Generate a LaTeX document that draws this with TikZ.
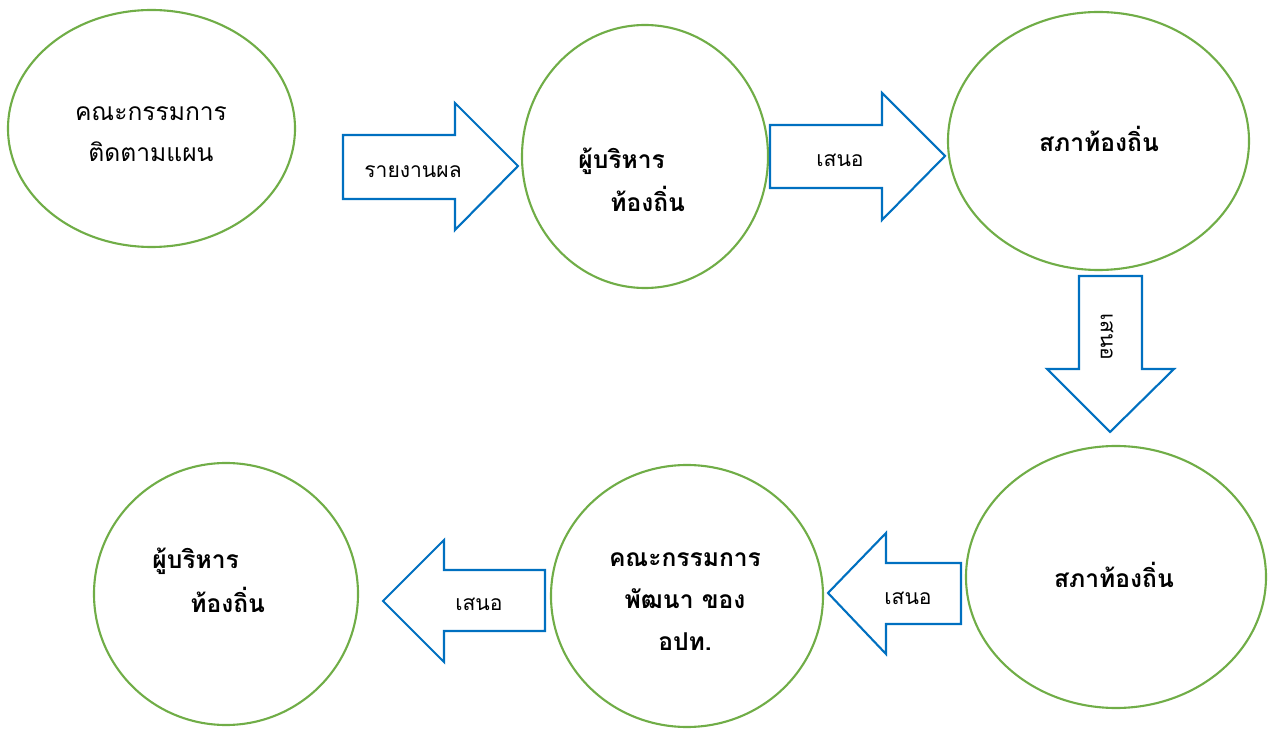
\documentclass[tikz,border=0pt]{standalone}
\usepackage{fontspec}
\newfontfamily\thaifont[Script=Thai]{Loma}
\usepackage{tikz}
\usetikzlibrary{positioning,shapes.geometric}
\definecolor{ringgreen}{HTML}{70AD47}
\definecolor{arrowblue}{HTML}{0070C0}
\tikzset{
  ring/.style={ellipse,draw=ringgreen,line width=1.2pt,inner sep=0pt},
  blockarrow/.style={draw=arrowblue,line width=1.2pt,fill=white,line join=miter},
  bigtext/.style={font=\thaifont\fontsize{14}{23.9}\selectfont,inner sep=0pt},
  boldtext/.style={font=\thaifont\bfseries\fontsize{14}{23.9}\selectfont,inner sep=0pt},
  arrowtext/.style={font=\thaifont\fontsize{12}{14}\selectfont,inner sep=0pt}
}

\begin{document}
\begin{tikzpicture}[x=0.02cm,y=-0.02cm]
  % ---- page window (same size as the screenshot) ----
  \def\px{0.02cm}
  \useasboundingbox (0,0) rectangle (1272,729);

  % ---- circles ----
  \node[ring,minimum width=287*\px,minimum height=237*\px] (plan)  at (151.5,128.5) {};
  \node[ring,minimum width=246*\px,minimum height=263*\px] (exec)  at (645,156.5) {};
  \node[ring,minimum width=301*\px,minimum height=258*\px] (council) at (1098.5,141) {};
  \node[ring,minimum width=300*\px,minimum height=262*\px] (council2) at (1116,577) {};
  \node[ring,minimum width=272*\px,minimum height=262*\px] (devcom) at (687,596) {};
  \node[ring,minimum width=264*\px,minimum height=262*\px] (exec2) at (226,594) {};

  % ---- block arrows ----
  \draw[blockarrow] (343,135) -- (455,135) -- (455,103) -- (518,166)
    -- (455,230) -- (455,199) -- (343,199) -- cycle;
  \draw[blockarrow] (770,125) -- (882,125) -- (882,93) -- (945,156)
    -- (882,220) -- (882,188) -- (770,188) -- cycle;
  \draw[blockarrow] (1079,276) -- (1142,276) -- (1142,369) -- (1174,369)
    -- (1110,432) -- (1047,369) -- (1079,369) -- cycle;
  \draw[blockarrow] (961,563) -- (886,563) -- (886,533) -- (828,593)
    -- (886,654) -- (886,624) -- (961,624) -- cycle;
  \draw[blockarrow] (545,570) -- (444,570) -- (444,540) -- (383,601)
    -- (444,662) -- (444,631) -- (545,631) -- cycle;

  % ---- circle texts (base = last line) ----
  \node[bigtext,anchor=base,align=center] (plantxt) at (151,162)
    {คณะกรรมการ\\ติดตามแผน};
  \node[boldtext,anchor=base west,align=left] (exectxt) at (578,212)
    {ผู้บริหาร\\[1pt]\hspace*{0.64cm}ท้องถิ่น};
  \node[boldtext,anchor=base] (counciltxt) at (1099,152) {สภาท้องถิ่น};
  \node[boldtext,anchor=base] (council2txt) at (1114,587) {สภาท้องถิ่น};
  \node[boldtext,anchor=base,align=center] (devcomtxt) at (685,650)
    {คณะกรรมการ\\พัฒนา ของ\\อปท.};
  \node[boldtext,anchor=base west,align=left] (exec2txt) at (152,612)
    {ผู้บริหาร\\[1pt]\hspace*{0.76cm}ท้องถิ่น};

  % ---- arrow labels ----
  \node[arrowtext,anchor=base] (report) at (413,178) {รายงานผล};
  \node[arrowtext,anchor=base] (propA) at (840,167) {เสนอ};
  \node[arrowtext,rotate=-90] (propB) at (1107,337) {เสนอ};
  \node[arrowtext,anchor=base] (propC) at (908,604) {เสนอ};
  \node[arrowtext,anchor=base] (propD) at (479,610) {เสนอ};
\end{tikzpicture}
\end{document}
